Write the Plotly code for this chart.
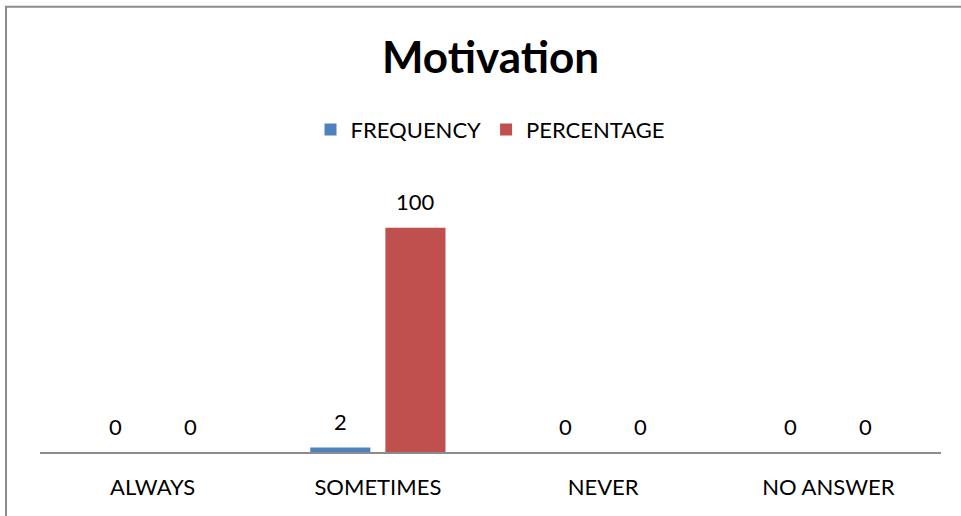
import plotly.graph_objects as go

categories = ["ALWAYS", "SOMETIMES", "NEVER", "NO ANSWER"]
frequency = [0, 2, 0, 0]
percentage = [0, 100, 0, 0]
series_names = ["FREQUENCY", "PERCENTAGE"]
series_colors = ["#4F81BD", "#C0504D"]
chart_title = "Motivation"

FONT = "Lato"

fig = go.Figure()
for name, vals, col in zip(series_names, [frequency, percentage], series_colors):
    fig.add_trace(go.Bar(name=name, x=categories, y=vals, marker_color=col,
                         marker_line_width=0))

# value labels
annotations = []
for vals, shift in zip([frequency, percentage], [-37.5, 37.5]):
    for c, v in zip(categories, vals):
        annotations.append(dict(x=c, y=v, xref="x", yref="y", text=str(v),
                                showarrow=False, xshift=shift, yshift=26,
                                yanchor="middle",
                                font=dict(family=FONT, size=22, color="black")))

fig.update_layout(
    width=961, height=516,
    margin=dict(l=40, r=20, t=183, b=64),
    paper_bgcolor="white", plot_bgcolor="white",
    barmode="group", bargap=0.333, bargroupgap=0.2,
    title=dict(text="<b>%s</b>" % chart_title, x=0.5, xref="paper",
               xanchor="center", y=1 - 58 / 516, yanchor="middle",
               font=dict(family=FONT, size=44, color="black")),
    legend=dict(orientation="h", x=0.5, xanchor="center", y=(452 - 130) / 268.8,
                yanchor="middle", font=dict(family=FONT, size=22, color="black"),
                itemwidth=30, traceorder="normal"),
    xaxis=dict(showline=True, linecolor="#8c8c8c", linewidth=2, ticks="",
               ticklabelstandoff=15,
               tickfont=dict(family=FONT, size=22, color="black"),
               showgrid=False, zeroline=False),
    yaxis=dict(visible=False, range=[0, 120], showgrid=False, zeroline=False),
    annotations=annotations,
    shapes=[dict(type="rect", xref="paper", yref="paper",
                 x0=(6 - 40) / 901, x1=1.2, y0=-0.6, y1=(452 - 7) / 268.8,
                 line=dict(color="#8c8c8c", width=2), fillcolor="rgba(0,0,0,0)",
                 layer="below")],
)

fig.write_html("out.html", config={"displayModeBar": False},
               post_script="document.body.style.margin='0';document.body.style.overflow='hidden';")
